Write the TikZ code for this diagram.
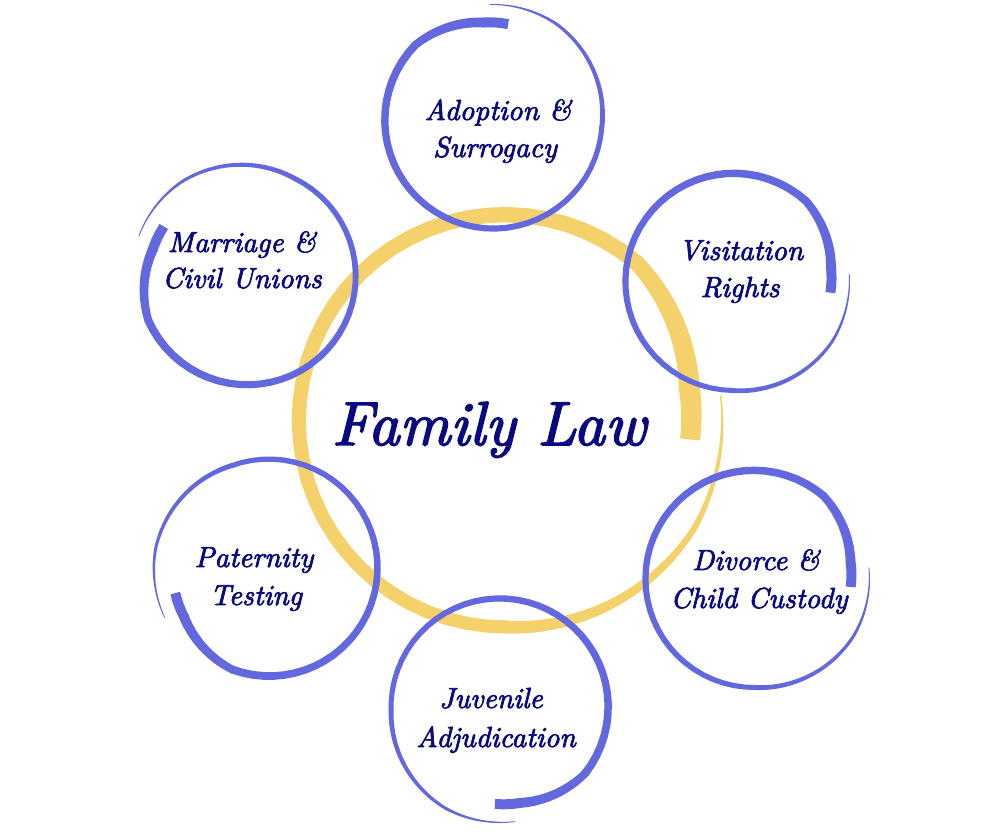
\documentclass[tikz,border=0pt]{standalone}
\usepackage{fontspec}
\newfontfamily\labit{lmroman10-italic}[Extension=.otf,FakeBold=2.5]
\definecolor{bl}{RGB}{100,104,222}
\definecolor{yl}{RGB}{245,209,107}
\definecolor{tx}{RGB}{10,10,128}
% brush segment: cx cy a b Ra Rb wa wb
\newcommand\seg[8]{%
 \fill plot[domain=#3:#4+0.5,samples=40,variable=\t]
   ({#1+((#5)+((#6)-(#5))*(\t-(#3))/((#4)-(#3))+0.5*((#7)+((#8)-(#7))*(\t-(#3))/((#4)-(#3))))*cos(\t)},
    {#2+((#5)+((#6)-(#5))*(\t-(#3))/((#4)-(#3))+0.5*((#7)+((#8)-(#7))*(\t-(#3))/((#4)-(#3))))*sin(\t)})
   -- plot[domain=#4+0.5:#3,samples=40,variable=\t]
   ({#1+((#5)+((#6)-(#5))*(\t-(#3))/((#4)-(#3))-0.5*((#7)+((#8)-(#7))*(\t-(#3))/((#4)-(#3))))*cos(\t)},
    {#2+((#5)+((#6)-(#5))*(\t-(#3))/((#4)-(#3))-0.5*((#7)+((#8)-(#7))*(\t-(#3))/((#4)-(#3))))*sin(\t)})
   -- cycle;}
\newcommand\bring[3]{%
 \pgfmathsetmacro\ta{#3}\pgfmathsetmacro\tb{#3+15}\pgfmathsetmacro\tc{#3+55}%
 \pgfmathsetmacro\td{#3+275}\pgfmathsetmacro\te{#3+335}\pgfmathsetmacro\tf{#3+370}%
 \seg{#1}{#2}{\ta}{\tb}{97}{98}{10}{10}%
 \seg{#1}{#2}{\tb}{\tc}{98}{108}{10}{8}%
 \seg{#1}{#2}{\tc}{\td}{108}{109}{8}{5}%
 \seg{#1}{#2}{\td}{\te}{109}{115}{5}{3}%
 \seg{#1}{#2}{\te}{\tf}{115}{115.5}{3}{0.8}%
}
\tikzset{
 lab/.style={text=tx, font=\labit\fontsize{29}{35}\selectfont, anchor=base, inner sep=0pt},
 biglab/.style={text=tx, font=\labit\fontsize{62}{70}\selectfont, anchor=base, inner sep=0pt}
}
\begin{document}
\begin{tikzpicture}[x=1pt,y=1pt]
\useasboundingbox (0,0) rectangle (1000,835);
\fill[white] (0,0) rectangle (1000,835);
% central yellow brush circle
\begin{scope}[fill=yl]
 \seg{505}{415}{-6}{10}{186}{187}{20}{21}
 \seg{505}{415}{10}{50}{187}{205}{21}{16}
 \seg{505}{415}{50}{270}{205}{207}{16}{13}
 \seg{505}{415}{270}{330}{207}{218}{13}{6}
 \seg{505}{415}{330}{366}{218}{217}{6}{1.5}
\end{scope}
% blue brush circles
\begin{scope}[fill=bl]
 \bring{493}{715}{81}
 \bring{247}{558.5}{149}
 \bring{734}{553.5}{-6.6}
 \bring{269}{267}{195}
 \bring{754}{256.5}{-5}
 \bring{500}{128}{267}
\end{scope}
% labels
\node[biglab] (fam) at (489,390) {Family Law};
\node[lab] (adopt1) at (498,715) {Adoption \&};
\node[lab] (adopt2) at (495,678) {Surrogacy};
\node[lab] (marr1) at (242,583) {Marriage \&};
\node[lab] (marr2) at (242,547) {Civil Unions};
\node[lab] (visit1) at (741,575) {Visitation};
\node[lab] (visit2) at (740,538) {Rights};
\node[lab] (pat1) at (254,268) {Paternity};
\node[lab] (pat2) at (256,230) {Testing};
\node[lab] (div1) at (756,265) {Divorce \&};
\node[lab] (div2) at (759,227) {Child Custody};
\node[lab] (juv1) at (491,127) {Juvenile};
\node[lab] (juv2) at (496,88) {Adjudication};
\end{tikzpicture}
\end{document}
